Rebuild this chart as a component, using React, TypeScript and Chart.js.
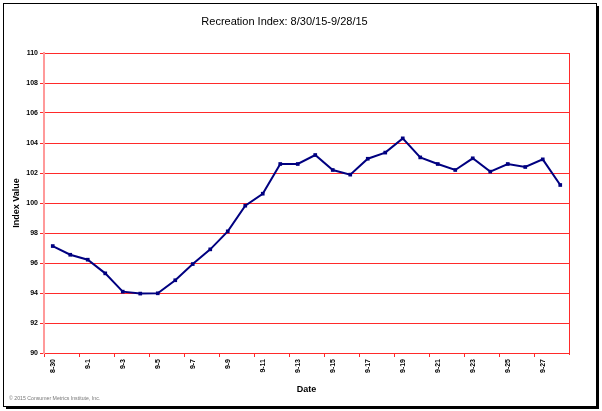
import React, { useEffect, useRef } from "react";
import { Chart, registerables } from "chart.js";

Chart.register(...registerables);

const categories: string[] = [
  "8-30", "8-31", "9-1", "9-2", "9-3", "9-4", "9-5", "9-6", "9-7", "9-8",
  "9-9", "9-10", "9-11", "9-12", "9-13", "9-14", "9-15", "9-16", "9-17", "9-18",
  "9-19", "9-20", "9-21", "9-22", "9-23", "9-24", "9-25", "9-26", "9-27", "9-28",
];

const indexValues: number[] = [
  97.13, 96.55, 96.22, 95.31, 94.09, 93.96, 93.98, 94.85, 95.93, 96.91,
  98.11, 99.82, 100.62, 102.6, 102.6, 103.2, 102.2, 101.89, 102.95, 103.36,
  104.31, 103.04, 102.6, 102.2, 102.98, 102.09, 102.6, 102.4, 102.91, 101.2,
];

const titleText = "Recreation Index: 8/30/15-9/28/15";
const yAxisTitle = "Index Value";
const xAxisTitle = "Date";
const footerText = "\u00A9 2015 Consumer Metrics Institute, Inc.";
const yMin = 90;
const yMax = 110;
const yStep = 2;

const framePlugin = {
  id: "framePlugin",
  beforeDraw(chart: any) {
    const { ctx } = chart;
    ctx.save();
    ctx.fillStyle = "#ffffff";
    ctx.fillRect(0, 0, chart.width, chart.height);
    ctx.restore();
  },
  afterDraw(chart: any) {
    const { ctx, chartArea } = chart;
    ctx.save();
    // right border of plot area
    ctx.strokeStyle = "#ff2a2a";
    ctx.lineWidth = 1;
    ctx.beginPath();
    ctx.moveTo(Math.round(chartArea.right) + 0.5, chartArea.top);
    ctx.lineTo(Math.round(chartArea.right) + 0.5, chartArea.bottom + 2);
    ctx.stroke();
    // outer frame with shadow
    ctx.strokeStyle = "#000000";
    ctx.lineWidth = 1;
    ctx.strokeRect(3.5, 3.5, 593, 403);
    ctx.fillStyle = "#000000";
    ctx.fillRect(597, 6, 2, 403);
    ctx.fillRect(6, 407, 593, 2);
    // footer
    ctx.fillStyle = "#777777";
    ctx.font = "5.2px 'Liberation Sans', Arial, sans-serif";
    ctx.textBaseline = "middle";
    ctx.textAlign = "left";
    ctx.fillText(footerText, 9, 399);
    ctx.restore();
  },
};

export default function App() {
  const canvasRef = useRef<HTMLCanvasElement | null>(null);

  useEffect(() => {
    document.body.style.margin = "0";
    const canvas = canvasRef.current;
    if (!canvas) return;
    const chart = new Chart(canvas, {
      type: "line",
      data: {
        labels: categories,
        datasets: [
          {
            data: indexValues,
            borderColor: "#000080",
            backgroundColor: "#000080",
            borderWidth: 2,
            pointStyle: "rect",
            pointRadius: 2.6,
            pointBorderWidth: 0,
            pointBackgroundColor: "#000080",
            tension: 0,
          },
        ],
      },
      options: {
        animation: false,
        responsive: false,
        devicePixelRatio: 1,
        layout: { padding: { left: 0, right: 33, top: 0, bottom: 0 } },
        plugins: {
          legend: { display: false },
          tooltip: { enabled: false },
          title: {
            display: true,
            text: titleText,
            color: "#000000",
            font: { family: "'Liberation Sans', Arial, sans-serif", size: 11, weight: "normal" },
            padding: { top: 15.4, bottom: 24.4 },
          },
        },
        scales: {
          x: {
            type: "category",
            offset: true,
            grid: {
              display: true,
              offset: true,
              drawOnChartArea: false,
              drawTicks: true,
              tickLength: 4,
              color: (ctx: any) => (ctx.index % 2 === 0 ? "#ff2a2a" : "rgba(0,0,0,0)"),
            },
            border: { display: true, color: "#ff2a2a", width: 1 },
            ticks: {
              autoSkip: false,
              minRotation: 90,
              maxRotation: 90,
              padding: 2,
              color: "#000000",
              font: { family: "'Liberation Sans', Arial, sans-serif", size: 7, weight: "bold" },
              callback: (_v: any, i: number) => (i % 2 === 0 ? categories[i] : ""),
            },
            title: {
              display: true,
              text: xAxisTitle,
              color: "#000000",
              font: { family: "'Liberation Sans', Arial, sans-serif", size: 9, weight: "bold" },
              padding: { top: 0, bottom: 15.6 },
            },
            afterFit: (scale: any) => {
              scale.height = 58;
            },
          },
          y: {
            min: yMin,
            max: yMax,
            grid: {
              color: "#ff2a2a",
              lineWidth: 1,
              drawTicks: true,
              tickLength: 4,
            },
            border: { display: true, color: "#ff9a9a", width: 2 },
            ticks: {
              stepSize: yStep,
              padding: 2,
              color: "#000000",
              font: { family: "'Liberation Sans', Arial, sans-serif", size: 7, weight: "bold" },
            },
            title: {
              display: true,
              text: yAxisTitle,
              color: "#000000",
              font: { family: "'Liberation Sans', Arial, sans-serif", size: 9, weight: "bold" },
              padding: { top: 11.5, bottom: 0 },
            },
            afterFit: (scale: any) => {
              scale.width = 44;
            },
          },
        },
      },
      plugins: [framePlugin],
    });
    return () => chart.destroy();
  }, []);

  return (
    <div style={{ position: "absolute", left: 0, top: 0, width: 602, height: 411 }}>
      <canvas ref={canvasRef} width={602} height={411} style={{ width: 602, height: 411 }} />
    </div>
  );
}
